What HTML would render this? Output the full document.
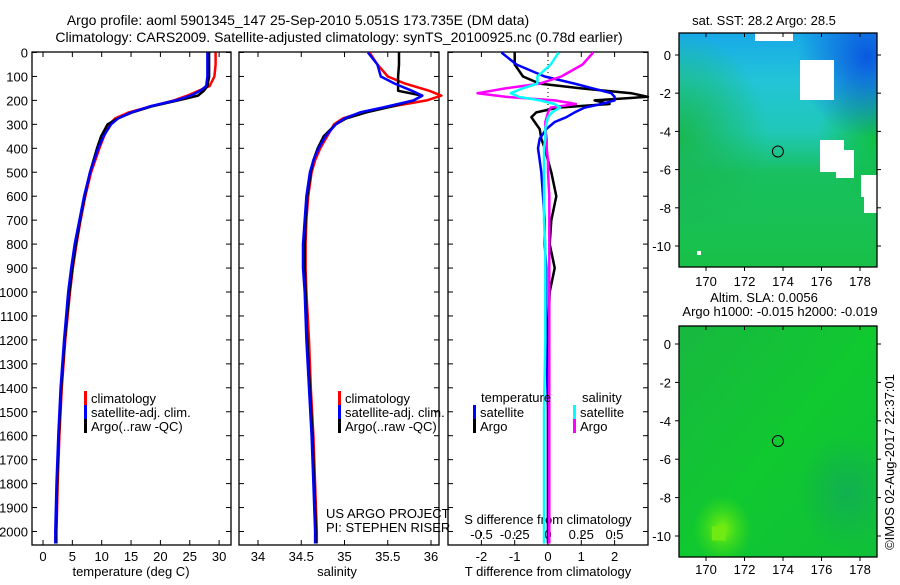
<!DOCTYPE html>
<html><head><meta charset="utf-8"><style>
body{margin:0;background:#fff;width:900px;height:580px;overflow:hidden}
svg{font-family:"Liberation Sans",sans-serif;font-size:13px}
</style></head><body>
<svg id="c" width="900" height="580" xmlns="http://www.w3.org/2000/svg">
<defs>
<linearGradient id="sstBase" x1="0" y1="0" x2="0" y2="1">
<stop offset="0" stop-color="#18a8e8"/><stop offset="0.2" stop-color="#22c4d8"/><stop offset="0.42" stop-color="#20c8b8"/><stop offset="0.6" stop-color="#18c060"/><stop offset="1" stop-color="#18c048"/></linearGradient>
<radialGradient id="sstBlue" cx="0.95" cy="0.1" r="0.35"><stop offset="0" stop-color="#0a58e0"/><stop offset="1" stop-color="#0a58e0" stop-opacity="0"/></radialGradient>
<radialGradient id="sstGreenL" cx="0" cy="0.45" r="0.45"><stop offset="0" stop-color="#18b850"/><stop offset="1" stop-color="#18b850" stop-opacity="0"/></radialGradient>
<radialGradient id="sstGreenR" cx="1" cy="0.45" r="0.3"><stop offset="0" stop-color="#10c040"/><stop offset="1" stop-color="#10c040" stop-opacity="0"/></radialGradient>
<linearGradient id="slaBase" x1="0" y1="0" x2="1" y2="1"><stop offset="0" stop-color="#18b840"/><stop offset="0.5" stop-color="#10c830"/><stop offset="1" stop-color="#10c038"/></linearGradient>
<radialGradient id="slaLight" cx="0.22" cy="0.88" r="0.15"><stop offset="0" stop-color="#80f010"/><stop offset="1" stop-color="#40e010" stop-opacity="0"/></radialGradient>
<radialGradient id="slaDark" cx="0.85" cy="0.72" r="0.25"><stop offset="0" stop-color="#10b050"/><stop offset="1" stop-color="#10b050" stop-opacity="0"/></radialGradient>
</defs>
</svg>
<script>
// ---------- data ----------
const tDepth=[0,50,100,140,160,180,200,225,250,275,300,350,400,500,600,700,800,900,1000,1200,1400,1600,1800,2000,2050];
const tArgo=[28.3,28.3,28.3,28.0,27.4,26.4,23.0,18.5,15.2,12.8,11.0,9.9,9.2,8.0,7.1,6.3,5.6,5.0,4.5,3.7,3.1,2.7,2.4,2.2,2.2];
const tClim=[29.4,29.4,29.2,28.4,26.5,24.6,22.3,18.3,14.6,12.3,11.3,10.4,9.6,8.2,7.2,6.4,5.7,5.1,4.6,3.8,3.2,2.8,2.5,2.3,2.3];
const tSat=[28.0,28.0,28.0,27.8,26.8,25.2,22.6,18.2,15.0,12.8,11.6,10.3,9.4,8.0,7.0,6.2,5.4,4.8,4.3,3.6,3.0,2.6,2.3,2.1,2.1];
const sDepth=[0,50,100,130,160,180,200,225,250,275,300,350,400,450,500,600,700,800,900,1000,1200,1400,1600,1800,2000,2050];
const sArgo=[35.63,35.63,35.62,35.62,35.62,35.90,35.80,35.55,35.25,35.02,34.90,34.76,34.69,34.64,34.61,34.57,34.55,34.54,34.54,34.55,34.57,34.60,34.63,34.65,34.67,34.67];
const sClim=[35.29,35.38,35.50,35.70,35.98,36.12,35.95,35.55,35.20,34.98,34.88,34.80,34.72,34.66,34.62,34.58,34.56,34.55,34.55,34.56,34.59,34.61,34.64,34.66,34.68,34.68];
const sSat=[35.27,35.38,35.42,35.58,35.78,35.90,35.80,35.50,35.18,35.00,34.90,34.78,34.70,34.64,34.60,34.56,34.54,34.52,34.52,34.54,34.56,34.59,34.62,34.64,34.66,34.66];
const dDepth=[0,50,100,130,150,170,185,200,215,230,250,270,290,320,360,400,450,500,600,700,800,900,1000,1200,1500,2050];
const dtArgo=[-1.0,-1.0,-0.75,-0.25,1.0,2.5,3.0,1.4,1.85,0.3,-0.35,-0.5,-0.4,-0.25,-0.2,-0.1,0.0,0.1,0.25,0.1,0.05,0.2,0.05,0.0,0.0,0.0];
const dtSat=[-1.4,-0.95,-0.1,0.8,1.35,1.9,2.0,2.0,1.6,1.1,0.8,0.55,0.2,-0.05,-0.25,-0.3,-0.25,-0.2,-0.15,-0.1,-0.1,-0.05,-0.05,-0.05,0.0,0.0];
const dsSat=[0.08,0.02,-0.08,-0.08,-0.19,-0.28,-0.22,-0.06,0.05,0.09,0.03,0.0,-0.01,-0.02,-0.02,-0.03,-0.03,-0.03,-0.03,-0.03,-0.02,-0.02,-0.02,-0.02,-0.03,-0.03];
const dsArgo=[0.34,0.26,0.10,-0.06,-0.32,-0.53,-0.32,0.05,0.21,0.02,0.0,-0.01,-0.02,-0.02,-0.01,-0.01,0.0,0.0,0.01,0.01,0.01,0.01,0.01,0.01,0.01,0.01];
const depthTicks=[0,100,200,300,400,500,600,700,800,900,1000,1100,1200,1300,1400,1500,1600,1700,1800,1900,2000];
const tTicks=[0,5,10,15,20,25,30];
const sTicks=[34,34.5,35,35.5,36];
const sTickLabels=["34","34.5","35","35.5","36"];
const dtTicks=[-2,-1,0,1,2];
const dsTicks=[-0.5,-0.25,0,0.25,0.5];
const dsTickLabels=["-0.5","-0.25","0","0.25","0.5"];
const lonTicks=[170,172,174,176,178];
const latTicks=[0,-2,-4,-6,-8,-10];
const profLon=173.735, profLat=-5.051;

// ---------- helpers ----------
const svg=document.getElementById('c');const NS='http://www.w3.org/2000/svg';
function mk(tag,at,parent){const e=document.createElementNS(NS,tag);for(const k in at)e.setAttribute(k,at[k]);(parent||svg).appendChild(e);return e;}
function txt(x,y,s,anchor,extra){const e=mk('text',Object.assign({x:x,y:y,'text-anchor':anchor||'start'},extra||{}));e.textContent=s;return e;}
const yD=d=>52.5+d*0.2395;
const P1={l:32,r:231,x:v=>43+v*5.87};
const P2={l:239,r:439,x:v=>258+(v-34)*86.5};
const P3={l:448,r:648,x:v=>548+v*33.3,xs:v=>548+v*133};
const TOP=52,BOT=545;

function line(xf,vals,depths,color,name){
  const p=mk('polyline',{points:vals.map((v,i)=>xf(v).toFixed(1)+','+yD(depths[i]).toFixed(1)).join(' '),fill:'none',stroke:color,'stroke-width':2.5,'stroke-linejoin':'round'});
  
  
}
function frame(P,name){
  const r=mk('rect',{x:P.l,y:TOP,width:P.r-P.l,height:BOT-TOP,fill:'none',stroke:'#000','stroke-width':1.3});
  
  
  depthTicks.forEach(d=>{mk('line',{x1:P.l,x2:P.l+5,y1:yD(d),y2:yD(d),stroke:'#000'});mk('line',{x1:P.r,x2:P.r-5,y1:yD(d),y2:yD(d),stroke:'#000'});});
}

// titles
let t=txt(298,25,'Argo profile: aoml 5901345_147 25-Sep-2010 5.051S 173.735E (DM data)','middle',{'font-size':'14'});


t=txt(339,42,'Climatology: CARS2009. Satellite-adjusted climatology: synTS_20100925.nc (0.78d earlier)','middle',{'font-size':'14'});



// depth labels
depthTicks.forEach(d=>{const e=txt(28,yD(d)+5,String(d),'end');

});

// panel 1
frame(P1,'temperature-panel');
tTicks.forEach(v=>{const x=P1.x(v);mk('line',{x1:x,x2:x,y1:TOP,y2:TOP+5,stroke:'#000'});mk('line',{x1:x,x2:x,y1:BOT,y2:BOT-5,stroke:'#000'});
const e=txt(x,561,String(v),'middle');

});
t=txt(131,576,'temperature (deg C)','middle');


line(P1.x,tClim,tDepth,'#f00','temperature-climatology-line');
line(P1.x,tArgo,tDepth,'#000','temperature-argo-line');
line(P1.x,tSat,tDepth,'#00f','temperature-satellite-line');

// panel 2
frame(P2,'salinity-panel');
sTicks.forEach((v,i)=>{const x=P2.x(v);mk('line',{x1:x,x2:x,y1:TOP,y2:TOP+5,stroke:'#000'});mk('line',{x1:x,x2:x,y1:BOT,y2:BOT-5,stroke:'#000'});
const e=txt(x,561,sTickLabels[i],'middle');

});
t=txt(337,576,'salinity','middle');


line(P2.x,sClim,sDepth,'#f00','salinity-climatology-line');
line(P2.x,sArgo,sDepth,'#000','salinity-argo-line');
line(P2.x,sSat,sDepth,'#00f','salinity-satellite-line');
t=txt(326,518,'US ARGO PROJECT');


t=txt(326,532,'PI: STEPHEN RISER');



// legends
function legend(x,y,color,label,name){
  mk('rect',{x:x,y:y-7,width:3,height:14,fill:color});
  const e=txt(x+7,y+5,label);
  
  
}
legend(84,398,'#f00','climatology','legend-climatology');
legend(84,412,'#00f','satellite-adj. clim.','legend-satellite-adj');
legend(84,426,'#000','Argo(..raw -QC)','legend-argo');
legend(338,398,'#f00','climatology','legend2-climatology');
legend(338,412,'#00f','satellite-adj. clim.','legend2-satellite-adj');
legend(338,426,'#000','Argo(..raw -QC)','legend2-argo');

// panel 3
frame(P3,'difference-panel');
mk('line',{x1:P3.x(0),x2:P3.x(0),y1:TOP,y2:yD(260),stroke:'#000','stroke-dasharray':'1,3'});
dtTicks.forEach(v=>{const x=P3.x(v);mk('line',{x1:x,x2:x,y1:TOP,y2:TOP+5,stroke:'#000'});mk('line',{x1:x,x2:x,y1:BOT,y2:BOT-5,stroke:'#000'});
const e=txt(x,561,String(v),'middle');

});
dsTicks.forEach((v,i)=>{const x=P3.xs(v);mk('line',{x1:x,x2:x,y1:BOT-13,y2:BOT-9,stroke:'#000'});
const e=txt(x,539,dsTickLabels[i],'middle');

});
t=txt(548,524,'S difference from climatology','middle');


t=txt(548,576,'T difference from climatology','middle');


line(P3.x,dtArgo,dDepth,'#000','t-diff-argo-line');
line(P3.x,dtSat,dDepth,'#00f','t-diff-satellite-line');
line(P3.xs,dsArgo,dDepth,'#f0f','s-diff-argo-line');
line(P3.xs,dsSat,dDepth,'#0ff','s-diff-satellite-line');
t=txt(481,402,'temperature');


t=txt(582,402,'salinity');


legend(473,412,'#00f','satellite','legend-t-satellite');
legend(473,426,'#000','Argo','legend-t-argo');
legend(573,412,'#0ff','satellite','legend-s-satellite');
legend(573,426,'#f0f','Argo','legend-s-argo');

// maps
const lonX=v=>706+(v-170)*19.25;
function map(top,bottom,y0,sc,base,overlays,name){
  const L=679,R=877,lat=v=>y0-v*sc;
  const g=mk('g',{});
  
  
  mk('rect',{x:L,y:top,width:R-L,height:bottom-top,fill:base},g);
  overlays.forEach(o=>mk('rect',{x:L,y:top,width:R-L,height:bottom-top,fill:o},g));
  return {g,L,R,lat,top,bottom};
}
function axesFor(m,labelY){
  mk('rect',{x:m.L,y:m.top,width:m.R-m.L,height:m.bottom-m.top,fill:'none',stroke:'#000','stroke-width':1.3});
  lonTicks.forEach(v=>{const x=lonX(v);mk('line',{x1:x,x2:x,y1:m.top,y2:m.top+4,stroke:'#000'});mk('line',{x1:x,x2:x,y1:m.bottom,y2:m.bottom+4,stroke:'#000'});
  const e=txt(x,labelY,String(v),'middle');
  
  });
  latTicks.forEach(v=>{const y=m.lat(v);mk('line',{x1:m.L-4,x2:m.L,y1:y,y2:y,stroke:'#000'});mk('line',{x1:m.R,x2:m.R+4,y1:y,y2:y,stroke:'#000'});
  const e=txt(m.L-8,y+5,String(v),'end');
  
  });
  const c=mk('circle',{cx:lonX(profLon),cy:m.lat(profLat),r:5.5,fill:'none',stroke:'#000'});
  
  
}
const m1=map(33,267,55,19.1,'url(#sstBase)',['url(#sstGreenL)','url(#sstGreenR)','url(#sstBlue)'],'sst-map');
[[755,33,38,8],[800,60,34,40],[820,66,12,30],[820,140,24,32],[836,150,18,28],[861,175,17,22],[864,193,14,20],[697,251,4,4]].forEach(r=>mk('rect',{x:r[0],y:r[1],width:r[2],height:r[3],fill:'#fff'}));
axesFor(m1,286);
t=txt(764,25,'sat. SST: 28.2 Argo: 28.5','middle');


const m2=map(326,557,344,19.2,'url(#slaBase)',['url(#slaLight)','url(#slaDark)'],'sla-map');
mk('rect',{x:lonX(170.3),y:m2.lat(-9.5),width:14,height:14,fill:'#70ea10'});
axesFor(m2,574);
t=txt(764,302,'Altim. SLA: 0.0056','middle');


t=txt(780,316,'Argo h1000: -0.015 h2000: -0.019','middle');


t=txt(0,0,'©IMOS 02-Aug-2017 22:37:01','middle',{transform:'translate(894,462) rotate(-90)'});


</script>
</body></html>
